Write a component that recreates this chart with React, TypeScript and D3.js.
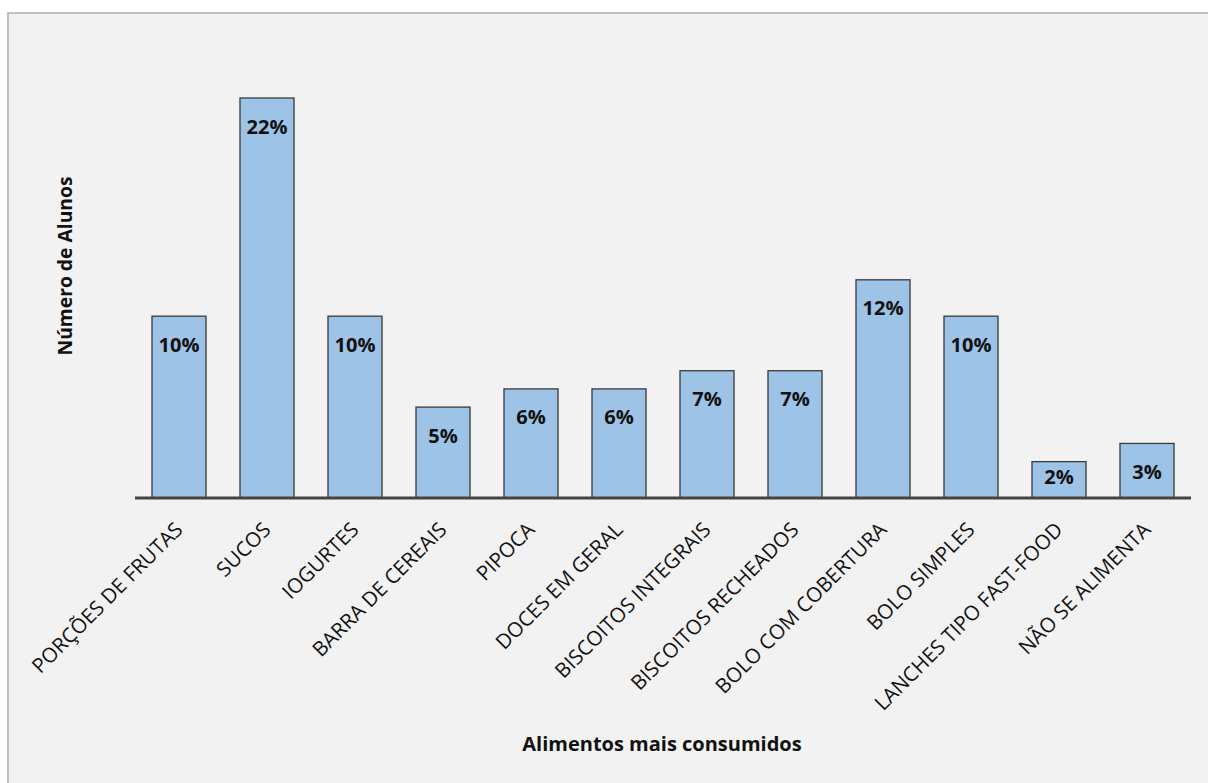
import React from "react";
import * as d3 from "d3";

const categories = [
  "PORÇÕES DE FRUTAS",
  "SUCOS",
  "IOGURTES",
  "BARRA DE CEREAIS",
  "PIPOCA",
  "DOCES EM GERAL",
  "BISCOITOS INTEGRAIS",
  "BISCOITOS RECHEADOS",
  "BOLO COM COBERTURA",
  "BOLO SIMPLES",
  "LANCHES TIPO FAST-FOOD",
  "NÃO SE ALIMENTA",
];
const values = [10, 22, 10, 5, 6, 6, 7, 7, 12, 10, 2, 3];
const labels = ["10%", "22%", "10%", "5%", "6%", "6%", "7%", "7%", "12%", "10%", "2%", "3%"];

const W = 1208;
const H = 783;
const FONT = "'Open Sans', 'Liberation Sans', sans-serif";

export default function App() {
  const x = d3.scaleBand<string>().domain(categories).range([135, 1191]).paddingInner(0.386).paddingOuter(0.193);
  const y = d3.scaleLinear().domain([0, 22]).range([498, 98]);
  const base = y(0);
  return (
    <svg width={W} height={H} style={{ display: "block", position: "absolute", left: 0, top: 0 }}>
      <rect x={8} y={13} width={1300} height={900} fill="#f2f2f2" stroke="#c0c0c0" strokeWidth={2} />
      {categories.map((c, i) => {
        const x0 = x(c)!;
        const yt = y(values[i]);
        const ly = Math.min(yt + 28, base - 22);
        return (
          <g key={c}>
            <rect x={x0} y={yt} width={x.bandwidth()} height={base - yt} fill="#9dc3e6" stroke="#3a3a3a" strokeWidth={1.3} />
            <text x={x0 + x.bandwidth() / 2} y={ly} textAnchor="middle" dominantBaseline="central" fontFamily={FONT} fontWeight="bold" fontSize={20} fill="#111">
              {labels[i]}
            </text>
          </g>
        );
      })}
      <line x1={x.range()[0]} x2={x.range()[1]} y1={base} y2={base} stroke="#444" strokeWidth={3} />
      {categories.map((c) => {
        const cx = x(c)! + x.bandwidth() / 2 + 5;
        return (
          <text key={"l" + c} transform={`translate(${cx},${base + 33}) rotate(-45)`} textAnchor="end" fontFamily={FONT} fontSize={20.5} fill="#111">
            {c}
          </text>
        );
      })}
      <text x={662} y={751} textAnchor="middle" fontFamily={FONT} fontWeight="bold" fontSize={20} fill="#111">
        Alimentos mais consumidos
      </text>
      <text transform={`translate(72,266) rotate(-90)`} textAnchor="middle" fontFamily={FONT} fontWeight="bold" fontSize={19.3} fill="#111">
        Número de Alunos
      </text>
    </svg>
  );
}
